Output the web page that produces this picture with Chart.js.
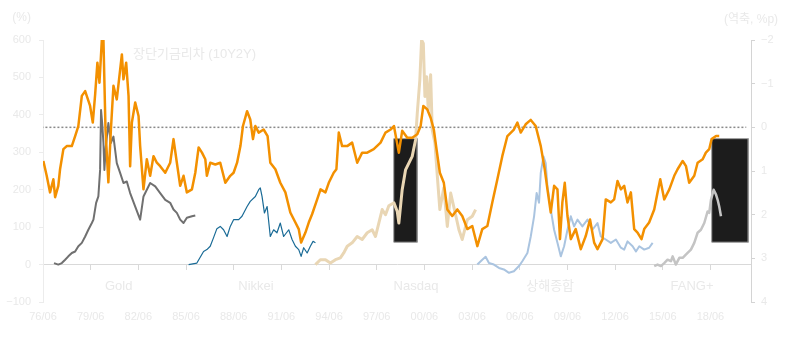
<!DOCTYPE html>
<html>
<head>
<meta charset="utf-8">
<script src="https://cdn.jsdelivr.net/npm/chart.js@4/dist/chart.umd.min.js"></script>
<style>
html,body{margin:0;padding:0;background:#fff;}
#wrap{width:800px;height:337px;position:relative;}
</style>
</head>
<body>
<div id="wrap"><canvas id="c" width="800" height="337"></canvas></div>
<script>
// ---- axis ticks ----
const tickYears = [1976.4167,1979.4167,1982.4167,1985.4167,1988.4167,1991.4167,1994.4167,1997.4167,2000.4167,2003.4167,2006.4167,2009.4167,2012.4167,2015.4167,2018.4167];
const tickLabels = ['76/06','79/06','82/06','85/06','88/06','91/06','94/06','97/06','00/06','03/06','06/06','09/06','12/06','15/06','18/06'];
const X_MIN = 1976.4167, X_MAX = 2020.97;

// ---- 장단기금리차 (10Y2Y), right axis, reversed (%p) ----
const spreadYears = [1976.44,1976.65,1976.86,1977.07,1977.18,1977.38,1977.49,1977.70,1977.91,1978.23,1978.44,1978.64,1978.86,1979.07,1979.38,1979.55,1979.70,1979.84,1979.97,1980.12,1980.22,1980.35,1980.53,1980.69,1980.85,1981.06,1981.38,1981.48,1981.65,1981.80,1981.90,1982.01,1982.22,1982.43,1982.53,1982.74,1982.95,1983.16,1983.37,1983.58,1983.79,1984.11,1984.42,1984.63,1984.84,1985.05,1985.26,1985.47,1985.79,1986.00,1986.21,1986.42,1986.63,1986.73,1986.94,1987.26,1987.57,1987.89,1988.20,1988.41,1988.63,1988.84,1989.00,1989.26,1989.46,1989.63,1989.78,1989.99,1990.30,1990.55,1990.72,1991.04,1991.35,1991.67,1991.98,1992.30,1992.51,1992.66,1992.93,1993.14,1993.35,1993.67,1993.88,1994.19,1994.40,1994.71,1994.88,1995.03,1995.24,1995.56,1995.87,1996.19,1996.50,1996.82,1997.23,1997.66,1997.97,1998.29,1998.50,1998.81,1999.02,1999.34,1999.65,1999.97,2000.18,2000.35,2000.60,2000.81,2001.01,2001.18,2001.39,2001.64,2001.86,2002.17,2002.49,2002.80,2003.12,2003.43,2003.75,2004.06,2004.38,2004.69,2005.01,2005.32,2005.64,2006.05,2006.27,2006.48,2006.79,2007.11,2007.42,2007.74,2007.99,2008.16,2008.37,2008.58,2008.79,2008.95,2009.10,2009.25,2009.42,2009.63,2009.94,2010.26,2010.57,2010.84,2011.10,2011.31,2011.63,2011.83,2012.15,2012.36,2012.57,2012.78,2012.99,2013.20,2013.41,2013.62,2013.83,2014.08,2014.25,2014.56,2014.88,2015.09,2015.26,2015.51,2015.83,2016.14,2016.35,2016.67,2016.88,2017.08,2017.40,2017.61,2017.93,2018.13,2018.34,2018.49,2018.77,2018.97];
const spreadValues = [0.77,1.11,1.49,1.19,1.60,1.34,0.96,0.50,0.43,0.43,0.20,-0.03,-0.72,-0.83,-0.49,-0.11,-0.76,-1.48,-1.02,-2.00,-2.00,0.05,1.26,0.05,-0.95,-0.64,-1.67,-1.10,-1.48,-0.72,0.89,-0.11,-0.57,-0.26,0.43,1.42,0.73,1.11,0.66,0.81,0.89,1.04,0.81,0.27,0.81,1.34,1.11,1.49,1.42,1.04,0.46,0.58,0.73,1.11,0.81,0.85,0.81,1.27,1.11,1.04,0.81,0.43,-0.03,-0.37,-0.18,0.27,-0.03,0.12,0.05,0.20,0.81,0.96,1.27,1.49,1.95,2.18,2.33,2.64,2.41,2.18,1.99,1.65,1.42,1.49,1.27,1.04,0.96,0.12,0.43,0.43,0.35,0.81,0.58,0.58,0.50,0.35,0.12,0.05,-0.03,0.58,0.08,0.24,0.24,0.16,-0.03,-0.49,-0.41,-0.22,0.05,0.50,1.04,1.27,1.88,2.03,1.88,2.03,2.33,2.26,2.72,2.33,2.26,1.72,1.19,0.66,0.20,0.05,-0.11,0.12,-0.07,-0.17,-0.03,0.43,0.96,1.42,1.95,1.34,1.42,2.56,1.72,1.27,2.03,2.56,2.33,2.79,2.49,2.11,2.64,2.79,2.56,1.65,1.72,1.65,1.23,1.42,1.34,1.72,1.49,2.33,2.41,2.56,2.33,2.18,1.88,1.49,1.19,1.65,1.42,1.11,0.96,0.77,0.89,1.27,1.11,0.81,0.73,0.58,0.50,0.27,0.20,0.20];

// ---- Gold (left axis, %) ----
const goldYears = [1977.11,1977.38,1977.60,1977.81,1978.01,1978.23,1978.44,1978.64,1978.86,1979.07,1979.27,1979.49,1979.59,1979.76,1979.90,1980.01,1980.07,1980.14,1980.22,1980.28,1980.37,1980.53,1980.69,1980.85,1981.06,1981.27,1981.48,1981.69,1981.90,1982.22,1982.53,1982.74,1982.95,1983.16,1983.48,1983.79,1984.11,1984.42,1984.63,1984.84,1985.05,1985.26,1985.47,1985.79,1986.00];
const goldValues = [4,0,4,13,22,31,35,49,58,75,93,111,120,165,182,253,413,378,325,253,315,378,325,342,271,245,218,222,191,155,120,182,200,218,209,191,173,165,147,138,120,111,125,129,131];

// ---- Nikkei ----
const nikkeiYears = [1985.58,1986.10,1986.52,1986.73,1986.94,1987.15,1987.36,1987.57,1987.78,1988.00,1988.20,1988.41,1988.73,1988.94,1989.26,1989.46,1989.78,1989.99,1990.09,1990.20,1990.35,1990.52,1990.72,1990.93,1991.14,1991.35,1991.56,1991.88,1992.09,1992.30,1992.51,1992.66,1992.82,1993.04,1993.24,1993.41,1993.56];
const nikkeiValues = [0,4,35,40,49,72,96,102,93,75,102,120,120,129,155,169,182,200,205,182,138,155,75,93,85,111,75,93,67,49,40,22,45,31,49,62,58];

// ---- Nasdaq ----
const nasdaqYears = [1993.56,1993.87,1994.19,1994.50,1994.82,1995.13,1995.34,1995.56,1995.87,1996.19,1996.50,1996.82,1997.13,1997.34,1997.55,1997.76,1997.97,1998.18,1998.50,1998.71,1998.81,1999.02,1999.23,1999.44,1999.65,1999.86,1999.97,2000.13,2000.24,2000.35,2000.45,2000.56,2000.66,2000.81,2000.91,2001.08,2001.23,2001.39,2001.64,2001.86,2002.07,2002.38,2002.59,2002.80,2003.12,2003.43,2003.64];
const nasdaqValues = [0,13,13,4,13,18,31,49,58,75,67,85,93,75,111,147,133,157,165,142,111,200,253,271,289,333,405,493,600,591,449,502,413,507,360,325,237,147,205,102,191,133,93,67,120,129,147];

// ---- 상해종합 ----
const shanghaiYears = [2003.75,2004.06,2004.27,2004.48,2004.79,2005.11,2005.42,2005.74,2006.05,2006.37,2006.58,2006.90,2007.11,2007.32,2007.48,2007.63,2007.74,2007.91,2008.05,2008.16,2008.37,2008.58,2008.79,2009.00,2009.21,2009.42,2009.63,2009.84,2010.05,2010.36,2010.68,2010.99,2011.31,2011.52,2011.83,2012.15,2012.47,2012.78,2012.99,2013.20,2013.52,2013.73,2013.94,2014.25,2014.56,2014.78];
const shanghaiValues = [0,13,21,4,0,-9,-13,-22,-18,-4,9,31,75,129,191,165,245,289,271,209,147,93,58,22,49,93,129,102,120,102,120,93,111,75,67,58,67,45,40,62,49,35,49,40,45,58];

// ---- FANG+ ----
const fangYears = [2014.88,2015.09,2015.30,2015.51,2015.72,2015.93,2016.04,2016.24,2016.46,2016.67,2016.98,2017.19,2017.40,2017.61,2017.82,2018.03,2018.24,2018.34,2018.45,2018.62,2018.77,2018.87,2018.97,2019.08];
const fangValues = [-4,0,-4,4,13,9,22,0,18,18,31,40,58,85,93,111,142,138,173,200,187,173,155,129];

// ---- highlight boxes (right axis units) ----
const boxStart = [1998.49, 2018.50];
const boxEnd = [1999.97, 2020.80];
const boxTop = [0.26, 0.26];
const boxBottom = [2.63, 2.63];

// ---- text ----
const catNames = ['Gold','Nikkei','Nasdaq','상해종합','FANG+'];
const catYears = [1981.18,1989.82,1999.89,2008.33,2017.26];
const seriesTitle = '장단기금리차 (10Y2Y)';
const leftUnit = '(%)';
const rightUnit = '(역축, %p)';

const TXT = '#e9e9e9';
const SANS = "'Liberation Sans','Noto Sans CJK KR',sans-serif";

const pts = (xs, ys) => xs.map((x, i) => ({x, y: ys[i]}));
const minus = v => v < 0 ? '\u2212' + Math.abs(v) : String(v);

const lineDs = (label, xs, ys, color, width, axis) => ({
  label, data: pts(xs, ys), borderColor: color, borderWidth: width,
  pointRadius: 0, tension: 0, fill: false, yAxisID: axis, borderJoinStyle: 'round'
});

const boxDs = boxStart.map((s, i) => ({
  label: 'box' + i,
  data: [{x: s, y: boxTop[i]}, {x: boxEnd[i], y: boxTop[i]}, {x: boxEnd[i], y: boxBottom[i]}, {x: s, y: boxBottom[i]}, {x: s, y: boxTop[i]}],
  borderColor: '#9a9a9a', borderWidth: 1, backgroundColor: '#1c1c1c', fill: 'shape',
  pointRadius: 0, tension: 0, yAxisID: 'y2'
}));

const textPlugin = {
  id: 'texts',
  afterDraw(chart) {
    const ctx = chart.ctx, xs = chart.scales.x;
    ctx.save();
    ctx.fillStyle = TXT;
    ctx.textBaseline = 'middle';
    ctx.font = '13px ' + SANS;
    ctx.textAlign = 'center';
    catNames.forEach((n, i) => ctx.fillText(n, xs.getPixelForValue(catYears[i]), 286));
    ctx.textAlign = 'left';
    ctx.fillText(seriesTitle, 133, 54);
    ctx.font = '12px ' + SANS;
    ctx.textAlign = 'right';
    ctx.fillText(leftUnit, 31, 18);
    ctx.textAlign = 'left';
    ctx.fillText(rightUnit, 724, 20);
    ctx.restore();
  }
};

const setTicks = s => { s.ticks = tickYears.map(v => ({value: v})); };

new Chart(document.getElementById('c'), {
  type: 'line',
  data: {
    datasets: [
      lineDs('spread', spreadYears, spreadValues, '#f39000', 2.5, 'y2'),
      lineDs('Gold', goldYears, goldValues, '#707070', 2, 'y'),
      lineDs('Nikkei', nikkeiYears, nikkeiValues, '#1a6b96', 1.2, 'y'),
      lineDs('Nasdaq', nasdaqYears, nasdaqValues, '#e9d6b4', 3, 'y'),
      lineDs('Shanghai', shanghaiYears, shanghaiValues, '#aac4e0', 2, 'y'),
      lineDs('FANG+', fangYears, fangValues, '#c4c4c4', 2.5, 'y'),
      {label: 'zero', data: [{x: X_MIN - 0.1, y: 0}, {x: X_MAX - 0.3, y: 0}], borderColor: '#8a8a8a', borderWidth: 1.5, borderDash: [2, 2], pointRadius: 0, yAxisID: 'y2', fill: false},
      ...boxDs
    ]
  },
  options: {
    responsive: false, animation: false, events: [],
    layout: {padding: {top: 40, bottom: 0, left: 0, right: 0}},
    plugins: {legend: {display: false}, tooltip: {enabled: false}},
    scales: {
      x: {
        type: 'linear', min: X_MIN, max: X_MAX, position: 'bottom',
        afterBuildTicks: setTicks,
        afterFit: s => { s.height = 35; },
        ticks: {callback: (v, i) => tickLabels[i], color: TXT, font: {family: SANS, size: 11}, padding: 8, maxRotation: 0, autoSkip: false},
        grid: {display: false, drawOnChartArea: false, drawTicks: false},
        border: {display: false}
      },
      x2: {
        type: 'linear', min: X_MIN, max: X_MAX, position: {y: 0},
        afterBuildTicks: setTicks,
        ticks: {display: false},
        grid: {drawOnChartArea: false, drawTicks: true, tickLength: 5, color: '#d9d9d9'},
        border: {display: true, color: '#d9d9d9'}
      },
      y: {
        type: 'linear', position: 'left', min: -100, max: 600,
        afterFit: s => { s.width = 43; },
        ticks: {stepSize: 100, callback: v => minus(v), color: TXT, font: {family: SANS, size: 11}, padding: 8},
        grid: {drawOnChartArea: false, tickLength: 4, color: '#ececec'},
        border: {display: true, color: '#ececec'}
      },
      y2: {
        type: 'linear', position: 'right', min: -2, max: 4, reverse: true,
        afterFit: s => { s.width = 49; },
        ticks: {stepSize: 1, callback: v => minus(v), color: TXT, font: {family: SANS, size: 11}, padding: 6},
        grid: {drawOnChartArea: false, tickLength: 4, color: '#d4d4d4'},
        border: {display: true, color: '#d4d4d4'}
      }
    }
  },
  plugins: [textPlugin]
});
</script>
</body>
</html>
